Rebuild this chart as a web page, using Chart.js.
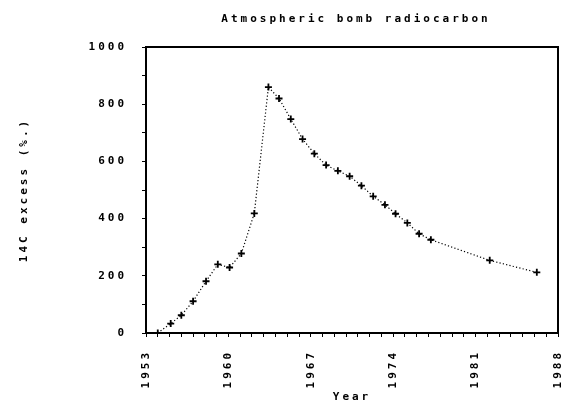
<!DOCTYPE html>
<html>
<head>
<meta charset="utf-8">
<script src="https://cdn.jsdelivr.net/npm/chart.js@4"></script>
<style>
  html, body { margin: 0; padding: 0; background: #fff; }
  #wrap { width: 564px; height: 406px; }
</style>
</head>
<body>
<div id="wrap"><canvas id="bombChart"></canvas></div>
<script>
// Jahre (Messpunkte) und 14C-Überschuss in Promille
const years = [1954.0, 1955.1, 1956.0, 1957.0, 1958.1, 1959.1, 1960.1, 1961.1, 1962.2, 1963.4,
               1964.3, 1965.3, 1966.3, 1967.3, 1968.3, 1969.3, 1970.3, 1971.3, 1972.3, 1973.3,
               1974.2, 1975.2, 1976.2, 1977.2, 1982.2, 1986.2];
const excess = [0, 33, 62, 111, 181, 240, 229, 278, 418, 860,
                820, 748, 678, 627, 587, 567, 548, 515, 478, 448,
                417, 385, 347, 326, 254, 212];
const xLabelYears = [1953, 1960, 1967, 1974, 1981, 1988];
const yLabelValues = [0, 200, 400, 600, 800, 1000];
const chartTitle = 'Atmospheric bomb radiocarbon';

const plotFont = "'DejaVu Sans Mono', monospace";
const textFont = { family: plotFont, size: 11, weight: 'bold' };

// Buchstabenabstand wie beim Plotter
const spacingPlugin = {
    id: 'spacing',
    beforeUpdate(chart) { chart.ctx.letterSpacing = '3px'; },
    beforeDraw(chart) { chart.ctx.letterSpacing = '3px'; }
};

// Rahmen oben und rechts, Titel über der Zeichenfläche
const framePlugin = {
    id: 'frame',
    afterDraw(chart) {
        const a = chart.chartArea;
        const ctx = chart.ctx;
        ctx.save();
        ctx.strokeStyle = '#000';
        ctx.lineWidth = 2;
        ctx.beginPath();
        ctx.moveTo(a.left, a.top);
        ctx.lineTo(a.right, a.top);
        ctx.lineTo(a.right, a.bottom);
        ctx.stroke();

        ctx.letterSpacing = '3px';
        ctx.fillStyle = '#000';
        ctx.font = 'bold 11px ' + plotFont;
        ctx.textAlign = 'center';
        ctx.textBaseline = 'middle';
        ctx.fillText(chartTitle, (a.left + a.right) / 2 + 4, 19);
        ctx.restore();
    }
};

new Chart(document.getElementById('bombChart'), {
    type: 'scatter',
    data: {
        datasets: [{
            data: years.map((y, i) => ({ x: y, y: excess[i] })),
            showLine: true,
            borderColor: '#000',
            borderWidth: 1.2,
            borderDash: [1.2, 2.2],
            tension: 0,
            pointStyle: 'cross',
            pointRadius: 3.5,
            pointBorderWidth: 1.8,
            pointBorderColor: '#000',
            pointBackgroundColor: '#000'
        }]
    },
    options: {
        responsive: true,
        maintainAspectRatio: false,
        animation: false,
        layout: { padding: { left: 0, right: 6, top: 47, bottom: 0 } },
        plugins: {
            legend: { display: false },
            tooltip: { enabled: false },
            title: { display: false }
        },
        scales: {
            x: {
                type: 'linear',
                min: 1953,
                max: 1988,
                afterFit(scale) {
                    scale.height = 73;
                    scale.paddingLeft = 0;
                    scale.paddingRight = 0;
                },
                border: { display: true, color: '#000', width: 2 },
                grid: { drawOnChartArea: false, drawTicks: true, tickLength: 4, color: '#000', lineWidth: 1 },
                ticks: {
                    stepSize: 1,
                    maxTicksLimit: 100,
                    autoSkip: false,
                    minRotation: 90,
                    maxRotation: 90,
                    padding: 13,
                    color: '#000',
                    font: textFont,
                    callback: v => xLabelYears.includes(v) ? String(v) : ''
                },
                title: {
                    display: true,
                    text: 'Year',
                    color: '#000',
                    font: textFont,
                    padding: { top: 0, bottom: 2 }
                }
            },
            y: {
                min: 0,
                max: 1000,
                afterFit(scale) {
                    scale.width = 146;
                    scale.paddingTop = 0;
                    scale.paddingBottom = 0;
                },
                border: { display: true, color: '#000', width: 2 },
                grid: { drawOnChartArea: false, drawTicks: true, tickLength: 4, color: '#000', lineWidth: 1 },
                ticks: {
                    stepSize: 100,
                    padding: 15,
                    color: '#000',
                    font: textFont,
                    callback: v => yLabelValues.includes(v) ? String(v) : ''
                },
                title: {
                    display: true,
                    text: '14C excess (%.)',
                    color: '#000',
                    font: textFont,
                    padding: { top: 18, bottom: 0 }
                }
            }
        }
    },
    plugins: [spacingPlugin, framePlugin]
});
</script>
</body>
</html>
